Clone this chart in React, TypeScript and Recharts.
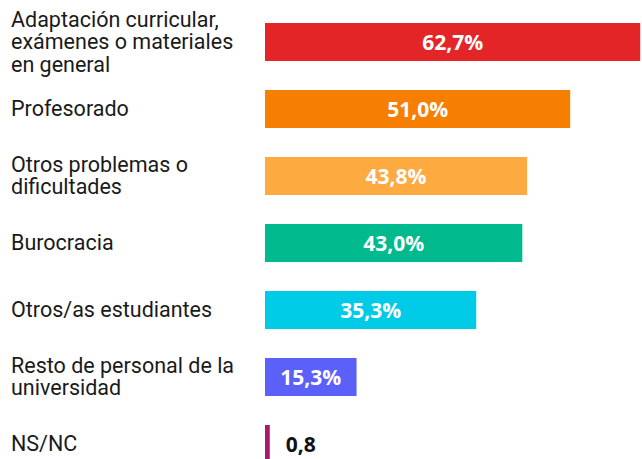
import React from 'react';
import { BarChart, Bar, XAxis, YAxis, Cell, LabelList } from 'recharts';

const categories = [
  'Adaptación curricular,\nexámenes o materiales\nen general',
  'Profesorado',
  'Otros problemas o\ndificultades',
  'Burocracia',
  'Otros/as estudiantes',
  'Resto de personal de la\nuniversidad',
  'NS/NC',
];
const values = [62.7, 51.0, 43.8, 43.0, 35.3, 15.3, 0.8];
const colors = ['#E42528', '#F67E00', '#FDAB40', '#00B98C', '#00CBE7', '#5A60F8', '#A61B6F'];

const data = categories.map((name, i) => ({ name, value: values[i], fill: colors[i] }));

const LABEL_FONT = 'Roboto, sans-serif';
const VALUE_FONT = '"Open Sans", sans-serif';
const LINE_H = 22.5;

// multi-line category label, left aligned at the page edge
const CategoryTick = (props: any) => {
  const { y, payload } = props;
  const lines: string[] = String(payload.value).split('\n');
  const start = y - ((lines.length - 1) / 2) * LINE_H;
  return (
    <g>
      {lines.map((line, i) => (
        <text
          key={i}
          x={11}
          y={start + i * LINE_H}
          textAnchor="start"
          dominantBaseline="central"
          fontFamily={LABEL_FONT}
          fontSize={21.5}
          fill="#1a1a1a"
        >
          {line}
        </text>
      ))}
    </g>
  );
};

const ValueLabel = (props: any) => {
  const { x, y, width, height, value } = props;
  const txt = value.toFixed(1).replace('.', ',');
  if (value < 5) {
    return (
      <text x={x + width + 16} y={y + height / 2} textAnchor="start" dominantBaseline="central" fontFamily={VALUE_FONT} fontWeight={700} fontSize={21} fill="#111">
        {txt}
      </text>
    );
  }
  return (
    <text x={x + width / 2} y={y + height / 2} textAnchor="middle" dominantBaseline="central" fontFamily={VALUE_FONT} fontWeight={700} fontSize={21} fill="#fff">
      {txt + '%'}
    </text>
  );
};

export default function App() {
  return (
    <div style={{ position: 'absolute', left: 0, top: 0, width: 642, height: 459, overflow: 'hidden', background: '#fff' }}>
      <BarChart
        width={642}
        height={477}
        data={data}
        layout="vertical"
        margin={{ top: 8, right: 0, bottom: 0, left: 0 }}
      >
        <XAxis type="number" domain={[0, 63]} hide />
        <YAxis
          type="category"
          dataKey="name"
          width={265}
          axisLine={false}
          tickLine={false}
          interval={0}
          tick={<CategoryTick />}
        />
        <Bar dataKey="value" barSize={38} isAnimationActive={false}>
          {data.map((d, i) => (
            <Cell key={i} fill={d.fill} />
          ))}
          <LabelList dataKey="value" content={<ValueLabel />} />
        </Bar>
      </BarChart>
    </div>
  );
}
